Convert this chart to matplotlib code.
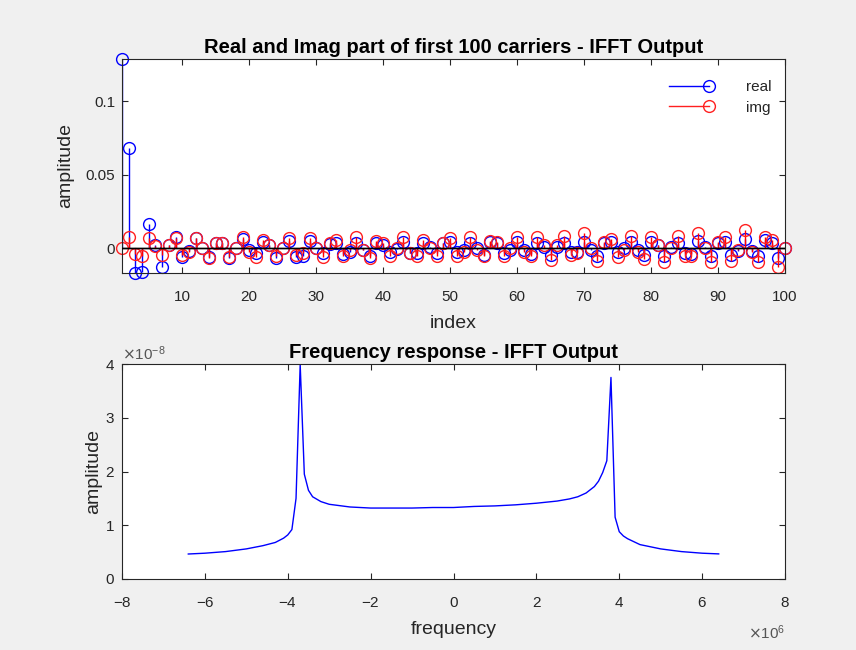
import numpy as np
import matplotlib
matplotlib.use("Agg")
import matplotlib.pyplot as plt
from matplotlib.lines import Line2D
from matplotlib.legend_handler import HandlerLine2D
from matplotlib.ticker import ScalarFormatter, FormatStrFormatter

plt.rcParams['font.family'] = ['Liberation Sans', 'DejaVu Sans']
plt.rcParams['axes.unicode_minus'] = False

# ---------------- data ----------------
carrier_index = list(range(1, 101))
real_part = [0.1287, 0.068, -0.0168, -0.0163, 0.0163, 0.002, -0.0127, 0.0022, 0.0079, -0.0057,
             -0.002, 0.0068, 0.0005, -0.0057, 0.0038, 0.0038, -0.0068, 0.0005, 0.0061, -0.0011,
             -0.0034, 0.0045, 0.0022, -0.0068, 0.0005, 0.0052, -0.0062, -0.0052, 0.0052, 0.0,
             -0.0034, 0.0027, 0.0038, -0.0039, -0.0023, 0.0038, -0.0011, -0.0052, 0.0038, 0.0022,
             -0.0023, -0.0005, 0.0045, -0.003, -0.0034, 0.0038, 0.0011, -0.0034, 0.0034, 0.0045,
             -0.0023, -0.0011, 0.0038, 0.0, -0.0045, 0.0045, 0.0038, -0.003, -0.0011, 0.0045,
             -0.0011, -0.0039, 0.0038, 0.0011, -0.0045, 0.0011, 0.0038, -0.0023, -0.0023, 0.0045,
             -0.0011, -0.0052, 0.0034, 0.0045, -0.0023, 0.0005, 0.0045, -0.0011, -0.0045, 0.0045,
             0.0022, -0.0052, 0.0011, 0.0038, -0.0034, -0.0039, 0.0052, 0.0011, -0.0052, 0.0038,
             0.0045, -0.0045, -0.0016, 0.0061, -0.0016, -0.0052, 0.0056, 0.0038, -0.0068, 0.0005]
imag_part = [0.0, 0.0075, -0.0039, -0.0052, 0.0068, 0.0015, -0.0045, 0.0022, 0.0068, -0.0045,
             -0.0023, 0.0068, 0.0, -0.0068, 0.0038, 0.0038, -0.0057, 0.0, 0.0079, -0.0023,
             -0.0057, 0.0056, 0.0022, -0.0052, 0.0, 0.0068, -0.0045, -0.0034, 0.0068, 0.0,
             -0.0057, 0.0038, 0.0056, -0.0052, -0.0011, 0.0079, -0.0011, -0.0068, 0.005, 0.0038,
             -0.0052, 0.0, 0.0079, -0.0034, -0.0052, 0.0056, 0.0, -0.0052, 0.0034, 0.0068,
             -0.0052, -0.0023, 0.0075, -0.0011, -0.0052, 0.005, 0.0045, -0.0052, 0.0, 0.0075,
             -0.0023, -0.0052, 0.0075, 0.0022, -0.0079, 0.0022, 0.0084, -0.0045, -0.0034, 0.0102,
             0.0, -0.0084, 0.0045, 0.0061, -0.0057, -0.0011, 0.0084, -0.0023, -0.0075, 0.0075,
             0.0022, -0.0091, 0.0, 0.0084, -0.0052, -0.0052, 0.0106, 0.0, -0.0091, 0.0045,
             0.0079, -0.0084, -0.0011, 0.0124, -0.0023, -0.0091, 0.0079, 0.0056, -0.0125, 0.0]

freq_mhz = [-6.4, -6.0, -5.5, -5.0, -4.6, -4.3, -4.1, -4.0, -3.9, -3.8, -3.7, -3.6, -3.5, -3.4,
            -3.2, -3.0, -2.5, -2.0, -1.5, -1.0, -0.5, 0.0, 0.5, 1.0, 1.5, 2.0, 2.5, 2.8, 3.0,
            3.2, 3.4, 3.5, 3.6, 3.7, 3.8, 3.9, 4.0, 4.1, 4.2, 4.5, 5.0, 5.5, 6.0, 6.4]
amp_e8 = [0.465, 0.48, 0.51, 0.56, 0.62, 0.68, 0.76, 0.82, 0.92, 1.5, 3.99, 1.95, 1.65, 1.53,
          1.44, 1.39, 1.34, 1.32, 1.32, 1.32, 1.33, 1.33, 1.35, 1.36, 1.38, 1.41, 1.45, 1.49, 1.53,
          1.6, 1.72, 1.82, 1.98, 2.2, 3.75, 1.15, 0.88, 0.8, 0.75, 0.64, 0.56, 0.51, 0.48, 0.467]

# ---------------- figure ----------------
W, H = 856, 650
fig = plt.figure(figsize=(W / 100, H / 100), dpi=100, facecolor='#f0f0f0')

dark = '#262626'
left = 122 / W
width = (785 - 122) / W
ax1 = fig.add_axes([left, 1 - 273 / H, width, (273 - 59) / H])
ax2 = fig.add_axes([left, 1 - 579 / H, width, (579 - 364) / H])

TICK_FS = 11
LABEL_FS = 14
TITLE_FS = 14.5

for ax in (ax1, ax2):
    ax.set_facecolor('white')
    for s in ax.spines.values():
        s.set_color(dark)
        s.set_linewidth(0.8)
    ax.tick_params(direction='in', top=True, right=True, length=4, width=0.8,
                   colors=dark, labelsize=TICK_FS)
    ax.tick_params(axis='x', pad=12)
    ax.tick_params(axis='y', pad=5)

# ---- top: stems ----
ms = 8.5
m1, s1, b1 = ax1.stem(carrier_index, real_part, linefmt='b-', markerfmt='bo', basefmt='k-')
m1.set_markerfacecolor('none'); m1.set_markersize(ms); m1.set_markeredgewidth(1.0)
s1.set_linewidth(1.0)
m2, s2, b2 = ax1.stem(carrier_index, imag_part, linefmt='r-', markerfmt='ro', basefmt='k-')
m2.set_markerfacecolor('none'); m2.set_markersize(ms); m2.set_markeredgewidth(1.0)
m2.set_markeredgecolor('#ff2020')
s2.set_linewidth(1.0)
for b in (b1, b2):
    b.set_linewidth(1.0)
    b.set_zorder(5)
for art in (m1, m2):
    art.set_clip_on(False)

ax1.set_xlim(1, 100)
ax1.set_ylim(min(min(real_part), min(imag_part)), max(max(real_part), max(imag_part)))
ax1.set_xticks(range(10, 101, 10))
ax1.set_yticks([0, 0.05, 0.1])
ax1.yaxis.set_major_formatter(FormatStrFormatter('%g'))
ax1.set_title('Real and Imag part of first 100 carriers - IFFT Output',
              fontsize=TITLE_FS, fontweight='bold', pad=4)
ax1.set_xlabel('index', fontsize=LABEL_FS, color=dark, labelpad=8)
ax1.set_ylabel('amplitude', fontsize=LABEL_FS, color=dark, labelpad=8)


class EndMarkerHandler(HandlerLine2D):
    def create_artists(self, legend, orig_handle, xdescent, ydescent, width, height,
                       fontsize, trans):
        y = height / 2 - ydescent
        ln = Line2D([-xdescent, width - xdescent], [y, y], color=orig_handle.get_color(),
                    lw=1.0)
        mk = Line2D([width - xdescent], [y], marker='o', mfc='none',
                    mec=orig_handle.get_color(), ms=ms, mew=1.0, ls='none')
        ln.set_transform(trans)
        mk.set_transform(trans)
        return [ln, mk]


h_real = Line2D([], [], color='b')
h_img = Line2D([], [], color='#ff2020')
leg = ax1.legend([h_real, h_img], ['real', 'img'], loc='upper right',
                 bbox_to_anchor=(1.0, 0.965), frameon=False, fontsize=TICK_FS,
                 handlelength=2.6, handletextpad=2.4, labelspacing=0.42,
                 handler_map={Line2D: EndMarkerHandler()})
for t in leg.get_texts():
    t.set_color(dark)

# ---- bottom: frequency response ----
ax2.plot(np.array(freq_mhz) * 1e6, np.array(amp_e8) * 1e-8, color='b', lw=1.0)
ax2.set_xlim(-8e6, 8e6)
ax2.set_ylim(0, 4e-8)
ax2.set_xticks(np.arange(-8, 9, 2) * 1e6)
ax2.set_yticks(np.arange(0, 5) * 1e-8)
fx = ScalarFormatter(useMathText=True); fx.set_powerlimits((0, 0))
fy = ScalarFormatter(useMathText=True); fy.set_powerlimits((0, 0))
ax2.xaxis.set_major_formatter(fx)
ax2.yaxis.set_major_formatter(fy)
ax2.xaxis.OFFSETTEXTPAD = 10
for ot in (ax2.xaxis.get_offset_text(), ax2.yaxis.get_offset_text()):
    ot.set_fontsize(TICK_FS)
    ot.set_color('#555555')
ax2.set_title('Frequency response - IFFT Output', fontsize=TITLE_FS, fontweight='bold', pad=4)
ax2.set_xlabel('frequency', fontsize=LABEL_FS, color=dark, labelpad=8)
ax2.set_ylabel('amplitude', fontsize=LABEL_FS, color=dark, labelpad=2)

fig.savefig('out.png', dpi=100, facecolor=fig.get_facecolor())
